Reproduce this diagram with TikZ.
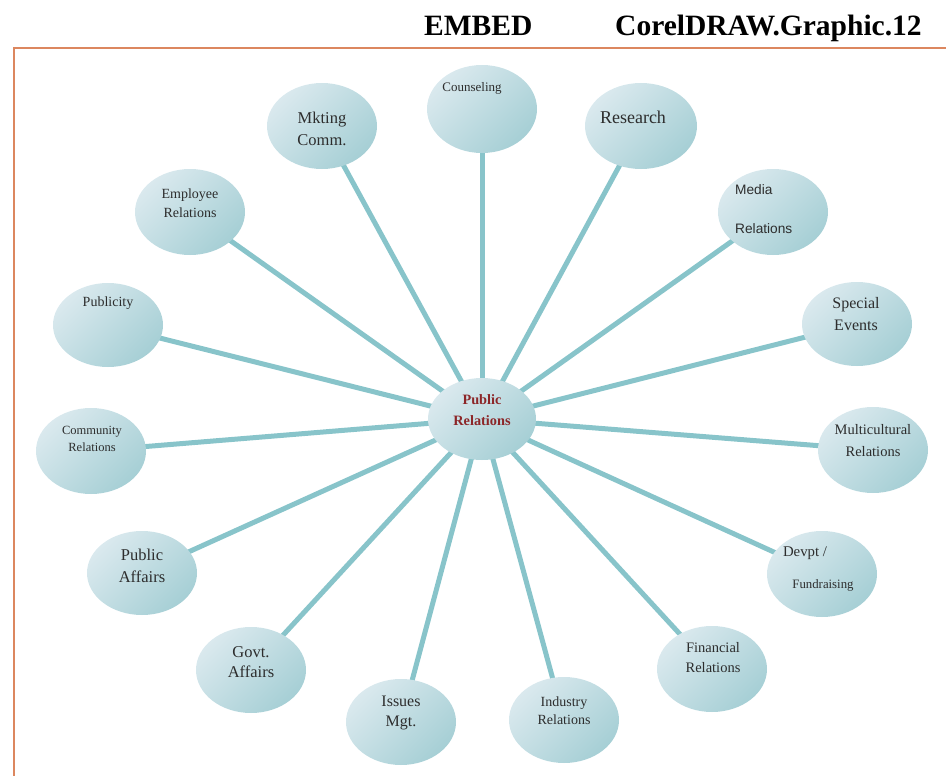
\documentclass[tikz,border=0pt]{standalone}
\usepackage{fontspec}
\setmainfont{Liberation Serif}
\newfontfamily\arialfont{Liberation Sans}
\usetikzlibrary{shapes.geometric,backgrounds}
\definecolor{spoke}{RGB}{136,196,202}
\definecolor{ellL}{RGB}{218,233,238}
\definecolor{ellD}{RGB}{166,207,213}
\definecolor{hubtxt}{RGB}{140,38,40}
\definecolor{framecol}{RGB}{220,135,95}
\definecolor{txt}{RGB}{45,45,45}
\newcommand{\fs}[2]{\fontsize{#1}{#2}\selectfont}
\begin{document}
\begin{tikzpicture}[x=1pt,y=-1pt,
  bubble/.style={ellipse, minimum width=110pt, minimum height=86pt, inner sep=0pt,
    top color=ellL, bottom color=ellD, shading angle=45, draw=none},
  spokeline/.style={draw=spoke, line width=5pt},
  lbl/.style={text=txt, inner sep=0pt, align=center},
  head/.style={font=\fs{29.5}{30}\bfseries, inner sep=0pt, anchor=base west}]
\useasboundingbox (0,0) rectangle (946,776);
% header
\node[head] (emb) at (424,36) {EMBED};
\node[head] (cdr) at (615,36) {CorelDRAW.Graphic.12};
% frame
\draw[framecol, line width=2pt] (946,48) -- (14,48) -- (14,776);
% bubbles
\node[bubble, minimum width=108pt, minimum height=82pt] (hub) at (482,419) {};
\node[bubble, minimum height=88pt] (cou) at (482,109) {};
\node[bubble] (mkt) at (322,126) {};
\node[bubble, minimum width=112pt] (res) at (641,126) {};
\node[bubble] (emp) at (190,212) {};
\node[bubble] (med) at (773,212) {};
\node[bubble, minimum height=84pt] (pub) at (108,325) {};
\node[bubble, minimum height=84pt] (spe) at (857,324) {};
\node[bubble] (com) at (91,451) {};
\node[bubble] (mul) at (873,450) {};
\node[bubble, minimum height=84pt] (paf) at (142,573) {};
\node[bubble] (dev) at (822,574) {};
\node[bubble] (gov) at (251,670) {};
\node[bubble] (iss) at (401,722) {};
\node[bubble] (ind) at (564,720) {};
\node[bubble] (fin) at (712,669) {};
% spokes
\begin{scope}[on background layer]
\foreach \n in {cou,mkt,res,emp,med,pub,spe,com,mul,paf,dev,gov,iss,ind,fin}
  \draw[spokeline] (hub.center) -- (\n.center);
\end{scope}
% labels
\node[lbl, text=hubtxt, font=\fs{14.3}{21}\bfseries] (thub) at (482,410) {Public\\Relations};
\node[lbl, font=\fs{13}{15}] (tcou) at (472,88) {Counseling};
\node[lbl, font=\fs{16.5}{22}] (tmkt) at (322,129) {Mkting\\Comm.};
\node[lbl, font=\fs{18}{20}] (tres) at (633,117) {Research};
\node[lbl, font=\fs{14}{19}] (temp) at (190,203) {Employee\\Relations};
\node[lbl, font=\arialfont\fs{13.7}{39}, align=left, anchor=west] (tmed) at (735,209) {Media\\Relations};
\node[lbl, font=\fs{14}{16}] (tpub) at (108,303) {Publicity};
\node[lbl, font=\fs{16}{22}] (tspe) at (856,314) {Special\\Events};
\node[lbl, font=\fs{12.5}{17}] (tcom) at (92,439) {Community\\Relations};
\node[lbl, font=\fs{14.5}{22}] (tmul) at (873,441) {Multicultural\\Relations};
\node[lbl, font=\fs{16.5}{22}] (tpaf) at (142,566) {Public\\Affairs};
\node[lbl, font=\fs{14.8}{16}] (tdev1) at (805,553) {Devpt /};
\node[lbl, font=\fs{12.8}{15}] (tdev2) at (823,585) {Fundraising};
\node[lbl, font=\fs{16.5}{20}] (tgov) at (251,662) {Govt.\\Affairs};
\node[lbl, font=\fs{16}{20}] (tiss) at (401,713) {Issues\\Mgt.};
\node[lbl, font=\fs{14}{18}] (tind) at (564,711) {Industry\\Relations};
\node[lbl, font=\fs{14.5}{20}] (tfin) at (713,658) {Financial\\Relations};
\end{tikzpicture}
\end{document}
